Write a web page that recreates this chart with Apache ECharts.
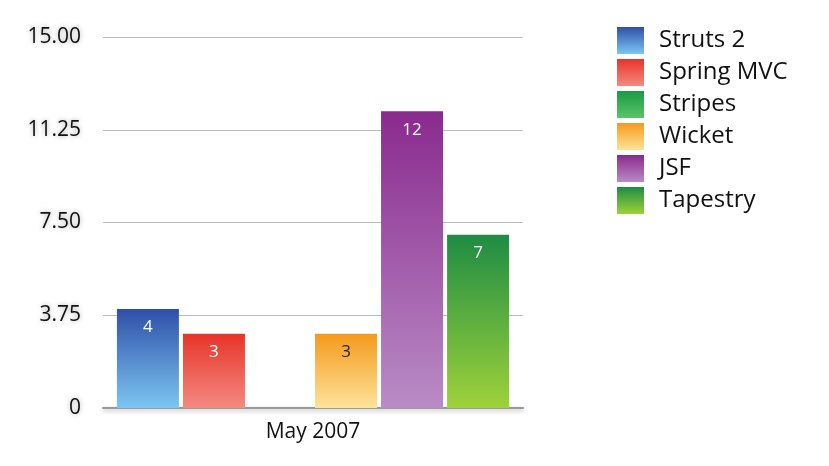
<!DOCTYPE html>
<html>
<head>
<meta charset="utf-8">
<script src="https://cdn.jsdelivr.net/npm/echarts@6/dist/echarts.min.js"></script>
<style>
  html, body { margin: 0; padding: 0; background: #fff; }
  #chart { width: 829px; height: 466px; }
</style>
</head>
<body>
<div id="chart"></div>
<script>
var categories = ['May 2007'];
var seriesNames = ['Struts 2', 'Spring MVC', 'Stripes', 'Wicket', 'JSF', 'Tapestry'];
var seriesValues = [4, 3, 0, 3, 12, 7];
var yTicks = [0, 3.75, 7.5, 11.25, 15];

// top colour, bottom colour, label colour
var palette = [
    ['#2f4fa8', '#7cc6f2', '#ffffff'],
    ['#e8342a', '#f48a80', '#ffffff'],
    ['#1a9a45', '#5cc46a', '#ffffff'],
    ['#f59a1c', '#fde39a', '#222222'],
    ['#8a2a8e', '#b98cc6', '#ffffff'],
    ['#1e8c44', '#9ed23a', '#ffffff']
];

var chart = echarts.init(document.getElementById('chart'));

var series = seriesNames.map(function (name, i) {
    return {
        name: name,
        type: 'bar',
        data: [seriesValues[i]],
        barWidth: 62,
        barGap: '6.5%',
        itemStyle: {
            color: new echarts.graphic.LinearGradient(0, 0, 0, 1, [
                { offset: 0, color: palette[i][0] },
                { offset: 1, color: palette[i][1] }
            ])
        },
        label: {
            show: seriesValues[i] > 0,
            position: 'insideTop',
            distance: 10,
            color: palette[i][2],
            fontSize: 17,
            fontFamily: 'Open Sans'
        }
    };
});

var option = {
    animation: false,
    grid: { left: 103, right: 306, top: 37, bottom: 58 },
    legend: {
        orient: 'vertical',
        left: 612,
        top: 22,
        itemWidth: 27,
        itemHeight: 27,
        itemGap: 5,
        icon: 'rect',
        textStyle: { fontSize: 24, color: '#111', fontFamily: 'Open Sans', padding: [0, 0, 0, 10] },
        data: seriesNames
    },
    xAxis: {
        type: 'category',
        data: categories,
        axisLine: { lineStyle: { color: '#999', width: 2, shadowColor: 'rgba(0,0,0,0.3)', shadowBlur: 4, shadowOffsetY: 2 } },
        axisTick: { show: false },
        axisLabel: { fontSize: 21, color: '#111', fontFamily: 'Open Sans', margin: 14 }
    },
    yAxis: {
        type: 'value',
        min: 0,
        max: 15,
        interval: 3.75,
        axisLine: { show: false },
        axisTick: { show: false },
        splitLine: { lineStyle: { color: '#bbb' } },
        axisLabel: {
            fontSize: 21,
            color: '#111',
            fontFamily: 'Open Sans',
            margin: 22,
            textShadowColor: 'rgba(0,0,0,0.35)',
            textShadowBlur: 5,
            formatter: function (v) {
                return v === 0 ? '0' : v.toFixed(2);
            }
        }
    },
    series: series
};

chart.setOption(option);
</script>
</body>
</html>
